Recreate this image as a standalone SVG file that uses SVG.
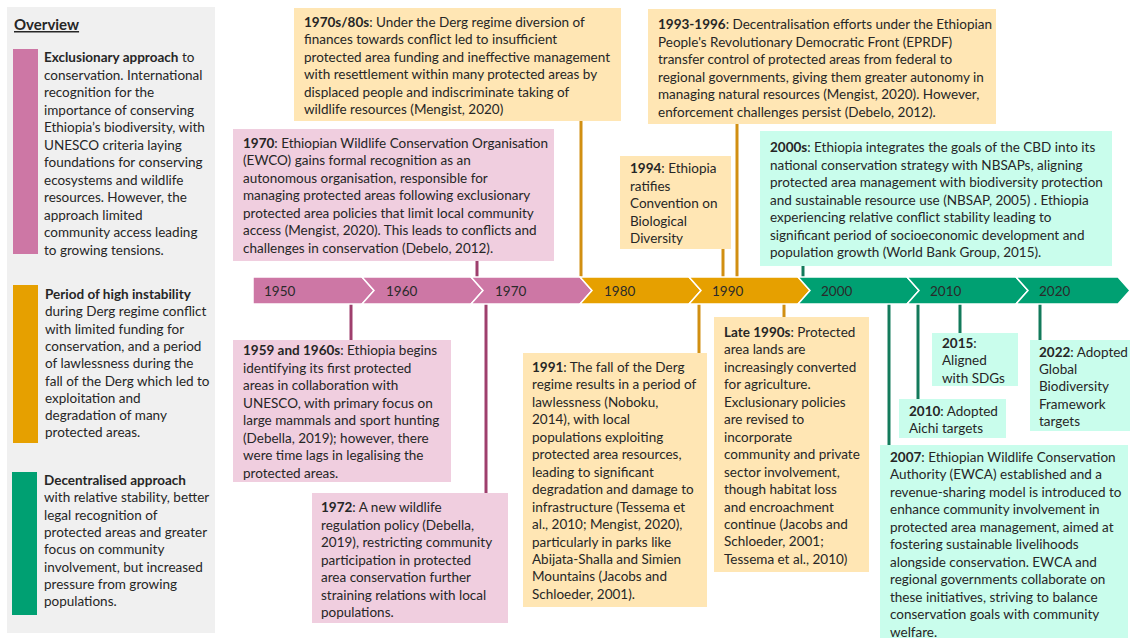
<svg xmlns="http://www.w3.org/2000/svg" width="1130" height="638" viewBox="0 0 1130 638">
<style>
.t{font-family:Lato,"Open Sans","Liberation Sans",sans-serif;font-size:13.5px;fill:#262626}
.b{font-weight:bold}
.yr{font-family:Lato,"Liberation Sans",sans-serif;font-size:13.5px;fill:#2a2a2a}
.pk{fill:#F0CEDF}
.or{fill:#FFE6B4}
.tl{fill:#C9FDEC}
.cp{stroke:#9E3F6D;stroke-width:3}
.co{stroke:#D18F12;stroke-width:3}
.cg{stroke:#137A5B;stroke-width:3}
.seg{stroke:#fff;stroke-width:1.5}
</style>
<rect width="1130" height="638" fill="#fff"/>

<g id="overview">
<rect x="7" y="7" width="208" height="626" fill="#F0F0F0"/>
<text class="t b" x="14" y="30" style="font-size:15px" text-decoration="underline">Overview</text>
<rect x="13" y="49" width="25" height="205" fill="#CD77A5"/>
<text class="t" x="44" y="62"><tspan class="b">Exclusionary approach</tspan> to<tspan x="44" dy="17.5">conservation. International</tspan><tspan x="44" dy="17.5">recognition for the</tspan><tspan x="44" dy="17.5">importance of conserving</tspan><tspan x="44" dy="17.5">Ethiopia’s biodiversity, with</tspan><tspan x="44" dy="17.5">UNESCO criteria laying</tspan><tspan x="44" dy="17.5">foundations for conserving</tspan><tspan x="44" dy="17.5">ecosystems and wildlife</tspan><tspan x="44" dy="17.5">resources. However, the</tspan><tspan x="44" dy="17.5">approach limited</tspan><tspan x="44" dy="17.5">community access leading</tspan><tspan x="44" dy="17.5">to growing tensions.</tspan></text>
<rect x="13" y="285" width="25" height="158" fill="#E6A000"/>
<text class="t" x="45" y="299"><tspan class="b">Period of high instability</tspan><tspan x="45" dy="17.3">during Derg regime conflict</tspan><tspan x="45" dy="17.3">with limited funding for</tspan><tspan x="45" dy="17.3">conservation, and a period</tspan><tspan x="45" dy="17.3">of lawlessness during the</tspan><tspan x="45" dy="17.3">fall of the Derg which led to</tspan><tspan x="45" dy="17.3">exploitation and</tspan><tspan x="45" dy="17.3">degradation of many</tspan><tspan x="45" dy="17.3">protected areas.</tspan></text>
<rect x="12" y="472" width="25" height="143" fill="#00A072"/>
<text class="t" x="44" y="485"><tspan class="b">Decentralised approach</tspan><tspan x="44" dy="17.3">with relative stability, better</tspan><tspan x="44" dy="17.3">legal recognition of</tspan><tspan x="44" dy="17.3">protected areas and greater</tspan><tspan x="44" dy="17.3">focus on community</tspan><tspan x="44" dy="17.3">involvement, but increased</tspan><tspan x="44" dy="17.3">pressure from growing</tspan><tspan x="44" dy="17.3">populations.</tspan></text>
</g>

<g id="connectors">
<line class="co" x1="581" y1="121" x2="581" y2="278"/>
<line class="cp" x1="477" y1="261" x2="477" y2="278"/>
<line class="co" x1="737" y1="124" x2="737" y2="278"/>
<line class="co" x1="723" y1="249" x2="723" y2="278"/>
<line class="cg" x1="803" y1="266" x2="803" y2="278"/>
<line class="cp" x1="351" y1="303" x2="351" y2="340"/>
<line class="cp" x1="486" y1="303" x2="486" y2="493"/>
<line class="co" x1="699" y1="303" x2="699" y2="353"/>
<line class="co" x1="784" y1="303" x2="784" y2="317"/>
<line class="cg" x1="889" y1="303" x2="889" y2="445"/>
<line class="cg" x1="918" y1="303" x2="918" y2="399"/>
<line class="cg" x1="960" y1="303" x2="960" y2="333"/>
<line class="cg" x1="1040" y1="303" x2="1040" y2="340"/>
</g>

<g id="timeline">
<polygon class="seg" fill="#CD77A5" points="253,277 362,277 374,290.5 362,304 253,304"/>
<polygon class="seg" fill="#CD77A5" points="362,277 471,277 483,290.5 471,304 362,304 374,290.5"/>
<polygon class="seg" fill="#CD77A5" points="471,277 580,277 592,290.5 580,304 471,304 483,290.5"/>
<polygon class="seg" fill="#E6A000" points="580,277 689,277 701,290.5 689,304 580,304 592,290.5"/>
<polygon class="seg" fill="#E6A000" points="689,277 798,277 810,290.5 798,304 689,304 701,290.5"/>
<polygon class="seg" fill="#00A072" points="798,277 907,277 919,290.5 907,304 798,304 810,290.5"/>
<polygon class="seg" fill="#00A072" points="907,277 1016,277 1028,290.5 1016,304 907,304 919,290.5"/>
<polygon class="seg" fill="#00A072" points="1016,277 1118,277 1130,290.5 1118,304 1016,304 1028,290.5"/>
<text class="yr" x="264" y="295.5">1950</text>
<text class="yr" x="386" y="295.5">1960</text>
<text class="yr" x="495" y="295.5">1970</text>
<text class="yr" x="604" y="295.5">1980</text>
<text class="yr" x="712" y="295.5">1990</text>
<text class="yr" x="821" y="295.5">2000</text>
<text class="yr" x="930" y="295.5">2010</text>
<text class="yr" x="1039" y="295.5">2020</text>
</g>

<g id="e1970s80s">
<rect class="or" x="294" y="8" width="327" height="113"/>
<text class="t" x="304" y="26.5"><tspan class="b">1970s/80s</tspan>: Under the Derg regime diversion of<tspan x="304" dy="17.5">finances towards conflict led to insufficient</tspan><tspan x="304" dy="17.5">protected area funding and ineffective management</tspan><tspan x="304" dy="17.5">with resettlement within many protected areas by</tspan><tspan x="304" dy="17.5">displaced people and indiscriminate taking of</tspan><tspan x="304" dy="17.5">wildlife resources (Mengist, 2020)</tspan></text>
</g>

<g id="e1970">
<rect class="pk" x="233" y="129" width="321" height="132"/>
<text class="t" x="243" y="147.5"><tspan class="b">1970</tspan>: Ethiopian Wildlife Conservation Organisation<tspan x="243" dy="17.5">(EWCO) gains formal recognition as an</tspan><tspan x="243" dy="17.5">autonomous organisation, responsible for</tspan><tspan x="243" dy="17.5">managing protected areas following exclusionary</tspan><tspan x="243" dy="17.5">protected area policies that limit local community</tspan><tspan x="243" dy="17.5">access (Mengist, 2020). This leads to conflicts and</tspan><tspan x="243" dy="17.5">challenges in conservation (Debelo, 2012).</tspan></text>
</g>

<g id="e1993">
<rect class="or" x="648" y="9" width="348" height="115"/>
<text class="t" x="658" y="29"><tspan class="b">1993-1996</tspan>: Decentralisation efforts under the Ethiopian<tspan x="658" dy="17.5">People's Revolutionary Democratic Front (EPRDF)</tspan><tspan x="658" dy="17.5">transfer control of protected areas from federal to</tspan><tspan x="658" dy="17.5">regional governments, giving them greater autonomy in</tspan><tspan x="658" dy="17.5">managing natural resources (Mengist, 2020). However,</tspan><tspan x="658" dy="17.5">enforcement challenges persist (Debelo, 2012).</tspan></text>
</g>

<g id="e1994">
<rect class="or" x="620" y="156" width="111" height="93"/>
<text class="t" x="630" y="173"><tspan class="b">1994</tspan>: Ethiopia<tspan x="630" dy="17.5">ratifies</tspan><tspan x="630" dy="17.5">Convention on</tspan><tspan x="630" dy="17.5">Biological</tspan><tspan x="630" dy="17.5">Diversity</tspan></text>
</g>

<g id="e2000s">
<rect class="tl" x="760" y="131" width="352" height="135"/>
<text class="t" x="770" y="152"><tspan class="b">2000s</tspan>: Ethiopia integrates the goals of the CBD into its<tspan x="770" dy="17.5">national conservation strategy with NBSAPs, aligning</tspan><tspan x="770" dy="17.5">protected area management with biodiversity protection</tspan><tspan x="770" dy="17.5">and sustainable resource use (NBSAP, 2005) . Ethiopia</tspan><tspan x="770" dy="17.5">experiencing relative conflict stability leading to</tspan><tspan x="770" dy="17.5">significant period of socioeconomic development and</tspan><tspan x="770" dy="17.5">population growth (World Bank Group, 2015).</tspan></text>
</g>

<g id="e1959">
<rect class="pk" x="233" y="340" width="218" height="142"/>
<text class="t" x="243" y="355"><tspan class="b">1959 and 1960s</tspan>: Ethiopia begins<tspan x="243" dy="17.5">identifying its first protected</tspan><tspan x="243" dy="17.5">areas in collaboration with</tspan><tspan x="243" dy="17.5">UNESCO, with primary focus on</tspan><tspan x="243" dy="17.5">large mammals and sport hunting</tspan><tspan x="243" dy="17.5">(Debella, 2019); however, there</tspan><tspan x="243" dy="17.5">were time lags in legalising the</tspan><tspan x="243" dy="17.5">protected areas.</tspan></text>
</g>

<g id="e1972">
<rect class="pk" x="312" y="493" width="196" height="130"/>
<text class="t" x="321" y="512"><tspan class="b">1972</tspan>: A new wildlife<tspan x="321" dy="17.5">regulation policy (Debella,</tspan><tspan x="321" dy="17.5">2019), restricting community</tspan><tspan x="321" dy="17.5">participation in protected</tspan><tspan x="321" dy="17.5">area conservation further</tspan><tspan x="321" dy="17.5">straining relations with local</tspan><tspan x="321" dy="17.5">populations.</tspan></text>
</g>

<g id="e1991">
<rect class="or" x="523" y="353" width="184" height="254"/>
<text class="t" x="532" y="372"><tspan class="b">1991</tspan>: The fall of the Derg<tspan x="532" dy="17.45">regime results in a period of</tspan><tspan x="532" dy="17.45">lawlessness (Noboku,</tspan><tspan x="532" dy="17.45">2014), with local</tspan><tspan x="532" dy="17.45">populations exploiting</tspan><tspan x="532" dy="17.45">protected area resources,</tspan><tspan x="532" dy="17.45">leading to significant</tspan><tspan x="532" dy="17.45">degradation and damage to</tspan><tspan x="532" dy="17.45">infrastructure (Tessema et</tspan><tspan x="532" dy="17.45">al., 2010; Mengist, 2020),</tspan><tspan x="532" dy="17.45">particularly in parks like</tspan><tspan x="532" dy="17.45">Abijata-Shalla and Simien</tspan><tspan x="532" dy="17.45">Mountains (Jacobs and</tspan><tspan x="532" dy="17.45">Schloeder, 2001).</tspan></text>
</g>

<g id="eLate1990s">
<rect class="or" x="714" y="317" width="155" height="255"/>
<text class="t" x="724" y="337"><tspan class="b">Late 1990s</tspan>: Protected<tspan x="724" dy="17.45">area lands are</tspan><tspan x="724" dy="17.45">increasingly converted</tspan><tspan x="724" dy="17.45">for agriculture.</tspan><tspan x="724" dy="17.45">Exclusionary policies</tspan><tspan x="724" dy="17.45">are revised to</tspan><tspan x="724" dy="17.45">incorporate</tspan><tspan x="724" dy="17.45">community and private</tspan><tspan x="724" dy="17.45">sector involvement,</tspan><tspan x="724" dy="17.45">though habitat loss</tspan><tspan x="724" dy="17.45">and encroachment</tspan><tspan x="724" dy="17.45">continue (Jacobs and</tspan><tspan x="724" dy="17.45">Schloeder, 2001;</tspan><tspan x="724" dy="17.45">Tessema et al., 2010)</tspan></text>
</g>

<g id="e2015">
<rect class="tl" x="932" y="333" width="86" height="53"/>
<text class="t" x="942" y="347.5"><tspan class="b">2015</tspan>:<tspan x="942" dy="17.6">Aligned</tspan><tspan x="942" dy="17.6">with SDGs</tspan></text>
</g>

<g id="e2010">
<rect class="tl" x="899" y="399" width="107" height="39"/>
<text class="t" x="909" y="415.5"><tspan class="b">2010</tspan>: Adopted<tspan x="909" dy="17.5">Aichi targets</tspan></text>
</g>

<g id="e2022">
<rect class="tl" x="1030" y="340" width="100" height="91"/>
<text class="t" x="1039" y="356.5"><tspan class="b">2022</tspan>: Adopted<tspan x="1039" dy="17.4">Global</tspan><tspan x="1039" dy="17.4">Biodiversity</tspan><tspan x="1039" dy="17.4">Framework</tspan><tspan x="1039" dy="17.4">targets</tspan></text>
</g>

<g id="e2007">
<rect class="tl" x="880" y="445" width="248" height="193"/>
<text class="t" x="890" y="461.5"><tspan class="b">2007</tspan>: Ethiopian Wildlife Conservation<tspan x="890" dy="17.5">Authority (EWCA) established and a</tspan><tspan x="890" dy="17.5">revenue-sharing model is introduced to</tspan><tspan x="890" dy="17.5">enhance community involvement in</tspan><tspan x="890" dy="17.5">protected area management, aimed at</tspan><tspan x="890" dy="17.5">fostering sustainable livelihoods</tspan><tspan x="890" dy="17.5">alongside conservation. EWCA and</tspan><tspan x="890" dy="17.5">regional governments collaborate on</tspan><tspan x="890" dy="17.5">these initiatives, striving to balance</tspan><tspan x="890" dy="17.5">conservation goals with community</tspan><tspan x="890" dy="17.5">welfare.</tspan></text>
</g>
</svg>
